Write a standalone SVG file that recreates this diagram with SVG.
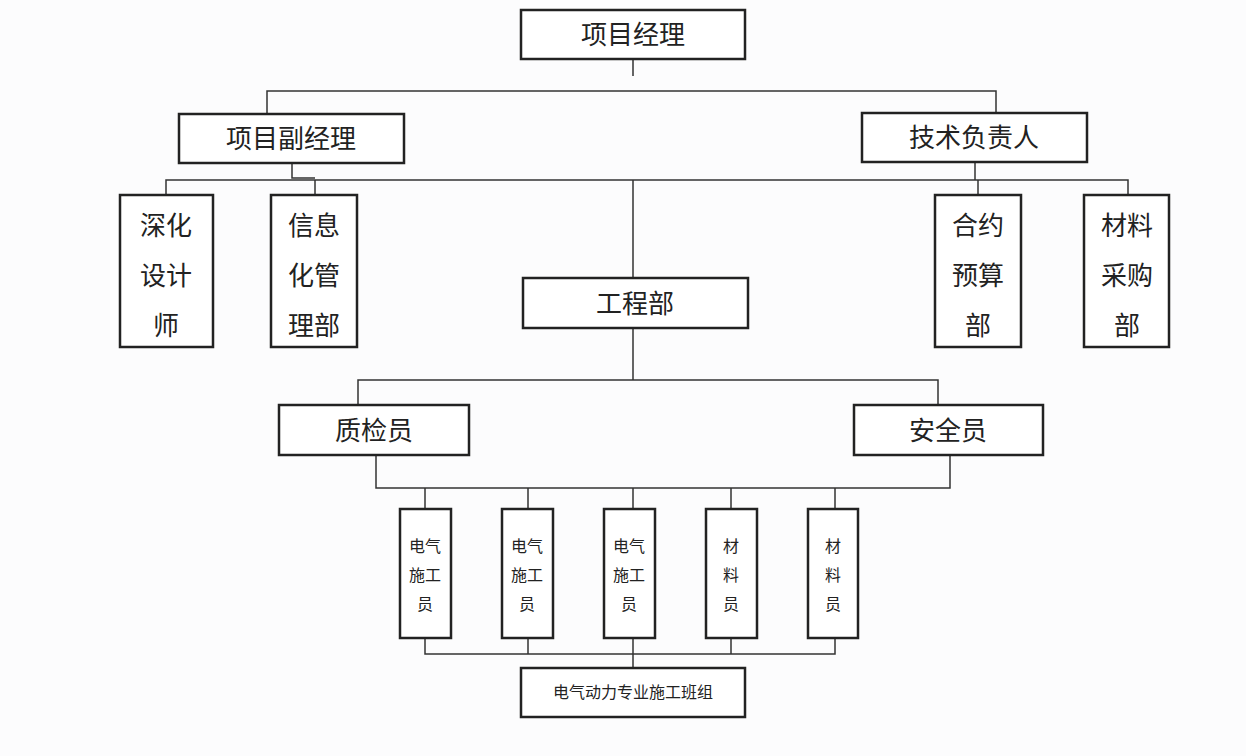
<svg xmlns="http://www.w3.org/2000/svg" width="1246" height="756" viewBox="0 0 1246 756">
<style>
.b{fill:#fff;stroke:#222;stroke-width:2.5}
.t{font-family:"Noto Sans CJK SC",sans-serif;fill:#222;text-anchor:middle}
.L{font-size:26px}.S{font-size:16px}
.c{fill:none;stroke:#333;stroke-width:1.5}
</style>
<rect width="1246" height="756" fill="#fcfcfd"/>
<g id="connectors" class="c">
<path d="M633 59V76M267 114V91H996V113"/>
<path d="M292 163V178H315M166 195V180H1128V195M315 180V195M978 180V195M975 162V180M633 180V278M633 328V380"/>
<path d="M358 405V380H938V405M376 455V488H950V455M425 488V509M528 488V509M633 488V509M731 488V509M835 488V509"/>
<path d="M425 638V654H835V638M528 638V654M633 638V668M731 638V654"/>
</g>
<g id="n1"><rect class="b" x="521" y="10" width="224" height="49"/><text class="t L" x="633" y="44">项目经理</text></g>
<g id="n2"><rect class="b" x="179" y="114" width="225" height="49"/><text class="t L" x="291" y="148">项目副经理</text></g>
<g id="n3"><rect class="b" x="862" y="113" width="225" height="49"/><text class="t L" x="974" y="147">技术负责人</text></g>
<g id="n4"><rect class="b" x="120" y="195" width="93" height="152"/><text class="t L" x="166" y="235">深化</text><text class="t L" x="166" y="285">设计</text><text class="t L" x="166" y="335">师</text></g>
<g id="n5"><rect class="b" x="271" y="195" width="86" height="152"/><text class="t L" x="314" y="235">信息</text><text class="t L" x="314" y="285">化管</text><text class="t L" x="314" y="335">理部</text></g>
<g id="n6"><rect class="b" x="935" y="195" width="86" height="152"/><text class="t L" x="978" y="235">合约</text><text class="t L" x="978" y="285">预算</text><text class="t L" x="978" y="335">部</text></g>
<g id="n7"><rect class="b" x="1084" y="195" width="85" height="152"/><text class="t L" x="1127" y="235">材料</text><text class="t L" x="1127" y="285">采购</text><text class="t L" x="1127" y="335">部</text></g>
<g id="n8"><rect class="b" x="523" y="278" width="225" height="50"/><text class="t L" x="635" y="313">工程部</text></g>
<g id="n9"><rect class="b" x="279" y="405" width="190" height="50"/><text class="t L" x="374" y="440">质检员</text></g>
<g id="n10"><rect class="b" x="854" y="405" width="189" height="50"/><text class="t L" x="948" y="440">安全员</text></g>
<g id="n11"><rect class="b" x="400" y="509" width="51" height="129"/><text class="t S" x="425" y="552">电气</text><text class="t S" x="425" y="581">施工</text><text class="t S" x="425" y="610">员</text></g>
<g id="n12"><rect class="b" x="502" y="509" width="51" height="129"/><text class="t S" x="527" y="552">电气</text><text class="t S" x="527" y="581">施工</text><text class="t S" x="527" y="610">员</text></g>
<g id="n13"><rect class="b" x="604" y="509" width="51" height="129"/><text class="t S" x="629" y="552">电气</text><text class="t S" x="629" y="581">施工</text><text class="t S" x="629" y="610">员</text></g>
<g id="n14"><rect class="b" x="706" y="509" width="51" height="129"/><text class="t S" x="731" y="552">材</text><text class="t S" x="731" y="581">料</text><text class="t S" x="731" y="610">员</text></g>
<g id="n15"><rect class="b" x="808" y="509" width="50" height="129"/><text class="t S" x="833" y="552">材</text><text class="t S" x="833" y="581">料</text><text class="t S" x="833" y="610">员</text></g>
<g id="n16"><rect class="b" x="521" y="668" width="224" height="49"/><text class="t S" x="633" y="698">电气动力专业施工班组</text></g>
</svg>
